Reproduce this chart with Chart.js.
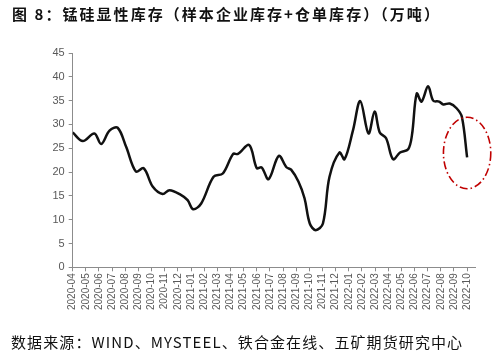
<!DOCTYPE html>
<html>
<head>
<meta charset="utf-8">
<script src="https://cdn.jsdelivr.net/npm/chart.js@4.4.0/dist/chart.umd.min.js"></script>
<style>
  html, body { margin: 0; padding: 0; background: #fff; }
  body { width: 500px; height: 358px; position: relative; overflow: hidden; }
  #title { position: absolute; left: 12px; top: 3px; font-family: "Noto Sans CJK SC", sans-serif; font-weight: bold; font-size: 15px; letter-spacing: 2.05px; color: #111; white-space: nowrap; }
  #source { position: absolute; left: 11px; top: 331px; font-family: "Noto Sans CJK SC", sans-serif; font-size: 15px; letter-spacing: 1.1px; color: #111; white-space: nowrap; }
  #wrap { position: absolute; left: 0; top: 0; width: 500px; height: 358px; }
</style>
</head>
<body>
<div id="wrap"><canvas id="c" width="500" height="358"></canvas></div>
<div id="title">图 8：锰硅显性库存（样本企业库存+仓单库存）（万吨）</div>
<div id="source">数据来源：WIND、MYSTEEL、铁合金在线、五矿期货研究中心</div>
<script>
// ---- data ----
const monthLabels = ['2020-04','2020-05','2020-06','2020-07','2020-08','2020-09','2020-10','2020-11','2020-12',
  '2021-01','2021-02','2021-03','2021-04','2021-05','2021-06','2021-07','2021-08','2021-09','2021-10','2021-11','2021-12',
  '2022-01','2022-02','2022-03','2022-04','2022-05','2022-06','2022-07','2022-08','2022-09','2022-10'];
const dates = ['2020-04-01','2020-04-24','2020-05-21','2020-06-06','2020-06-25','2020-07-14','2020-08-03','2020-08-26',
  '2020-09-13','2020-10-04','2020-10-27','2020-11-12','2020-12-08','2020-12-24','2021-01-06','2021-01-25','2021-02-21',
  '2021-03-14','2021-04-07','2021-04-18','2021-05-14','2021-06-01','2021-06-12','2021-06-28','2021-07-22','2021-08-09',
  '2021-08-20','2021-09-06','2021-09-20','2021-10-02','2021-10-16','2021-11-02','2021-11-17','2021-12-10','2021-12-22',
  '2022-01-11','2022-01-28','2022-02-15','2022-02-28','2022-03-12','2022-03-27','2022-04-12','2022-04-28','2022-05-17',
  '2022-05-26','2022-06-06','2022-06-17','2022-07-02','2022-07-14','2022-07-28','2022-08-07','2022-08-22','2022-09-07',
  '2022-09-19','2022-10-01'];
const inventory = [28.3,26.5,28.1,25.9,28.7,29.3,25.3,20.1,
  20.8,16.9,15.4,16.2,15.2,14.1,12.2,13.4,19.0,
  19.7,23.8,23.8,25.7,20.8,21.0,18.5,23.4,21.0,
  20.5,18.0,14.5,9.2,7.8,9.2,19.0,24.1,22.7,
  28.8,34.9,28.1,32.7,28.3,27.1,22.7,24.1,24.8,
  27.8,36.5,34.8,38.0,35.0,34.8,34.2,34.4,33.4,
  31.6,23.1];
const yTicks = [0,5,10,15,20,25,30,35,40,45];
// highlighted region (ellipse) around the latest reading, in data units
const highlight = { centerValue: 24, halfMonths: 1.8, halfValue: 7.5 };

// ---- helpers ----
const base = { y: 2020, m: 4 };
function toMonthIndex(d) {
  const [y, m, day] = d.split('-').map(Number);
  const dim = new Date(y, m, 0).getDate();
  return (y - base.y) * 12 + (m - base.m) + (day - 1) / dim;
}
const points = dates.map((d, i) => ({ x: toMonthIndex(d), y: inventory[i] }));

const ellipsePlugin = {
  id: 'ellipse',
  afterDatasetsDraw(chart) {
    const { ctx, scales: { x, y } } = chart;
    const last = points[points.length - 1];
    const cx = x.getPixelForValue(last.x);
    const cy = y.getPixelForValue(highlight.centerValue);
    const rx = Math.abs(x.getPixelForValue(last.x + highlight.halfMonths) - cx);
    const ry = Math.abs(y.getPixelForValue(highlight.centerValue + highlight.halfValue) - cy);
    ctx.save();
    ctx.strokeStyle = '#C00000';
    ctx.lineWidth = 1.6;
    ctx.setLineDash([8, 3, 1.5, 3]);
    ctx.beginPath();
    ctx.ellipse(cx, cy, rx, ry, 0, 0, Math.PI * 2);
    ctx.stroke();
    ctx.restore();
  }
};

const axisColor = '#8c8c8c';
new Chart(document.getElementById('c'), {
  type: 'line',
  data: {
    datasets: [{
      data: points,
      borderColor: '#111',
      borderWidth: 2.5,
      pointRadius: 0,
      tension: 0.35,
      fill: false
    }]
  },
  options: {
    responsive: false,
    animation: false,
    events: [],
    layout: { padding: { top: 53, right: 25, bottom: 0, left: 0 } },
    plugins: { legend: { display: false }, tooltip: { enabled: false } },
    scales: {
      x: {
        type: 'linear',
        min: 0,
        max: 30.6,
        afterFit(s) { s.height = 358 - 267.3; },
        afterBuildTicks(s) { s.ticks = monthLabels.map((_, i) => ({ value: i })); },
        ticks: {
          autoSkip: false,
          maxRotation: 90,
          minRotation: 90,
          padding: 2,
          color: '#595959',
          font: { family: 'Liberation Sans', size: 10 },
          callback: (v) => monthLabels[v] || ''
        },
        grid: { display: true, drawOnChartArea: false, drawTicks: true, tickLength: 4, color: axisColor },
        border: { display: true, color: axisColor, width: 1 }
      },
      y: {
        min: 0,
        max: 45,
        afterFit(s) { s.width = 72.7; },
        afterBuildTicks(s) { s.ticks = yTicks.map(v => ({ value: v })); },
        ticks: {
          padding: 4,
          color: '#595959',
          font: { family: 'Liberation Sans', size: 11 }
        },
        grid: { display: true, drawOnChartArea: false, drawTicks: true, tickLength: 4, color: axisColor },
        border: { display: true, color: axisColor, width: 1 }
      }
    }
  },
  plugins: [ellipsePlugin]
});
</script>
</body>
</html>
